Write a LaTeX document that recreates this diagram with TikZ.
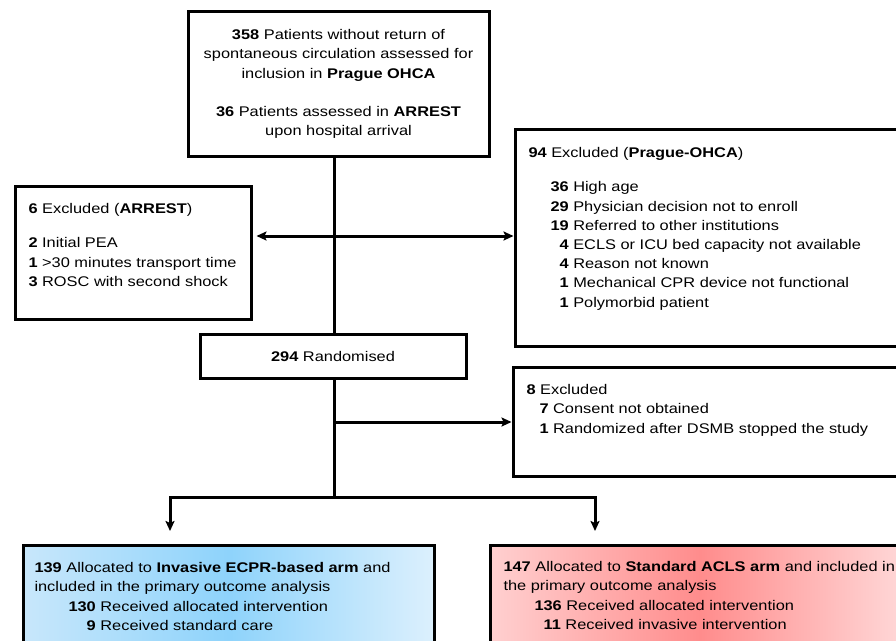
\documentclass[tikz,border=0pt]{standalone}
\usepackage{fontspec}
\setmainfont{Liberation Sans}[FakeStretch=1.17]
\usepackage{xcolor}
\usetikzlibrary{arrows.meta,positioning}
\definecolor{ecpredge}{HTML}{C8E7FB}
\definecolor{ecprmid}{HTML}{8ED3FB}
\definecolor{ecprright}{HTML}{DCF0FD}
\definecolor{aclsedge}{HTML}{FFD0D0}
\definecolor{aclsmid}{HTML}{FF8C8C}
\definecolor{aclsright}{HTML}{FFDADA}

\begin{document}
\begin{tikzpicture}[x=1pt, y=-1pt, line width=3pt, >={Stealth[length=10pt,width=9pt,inset=2pt]}]
\tikzstyle{every node} = [font=\fontsize{14pt}{19.2pt}\selectfont]
\tikzstyle{box} = [draw, rectangle, inner sep=0pt, anchor=north west]
\tikzstyle{txt} = [inner sep=0pt, anchor=north west, align=left]
\useasboundingbox (0,0) rectangle (896,640);
\clip (0,0) rectangle (896,640);
% boxes
\node[box, minimum width=301, minimum height=145, align=center] (top) at (186.5,10)
	{\textbf{358} Patients without return of\\ spontaneous circulation assessed for\\ inclusion in \textbf{Prague OHCA}\\[19pt]
	\textbf{36} Patients assessed in \textbf{ARREST}\\ upon hospital arrival};
\node[box, minimum width=236, minimum height=133] (arrest) at (13.5,184.5) {};
\node[box, minimum width=400, minimum height=217] (prague) at (513.5,127.5) {};
\node[box, minimum width=266, minimum height=44] (rand) at (198.5,332.5) {\textbf{294} Randomised};
\node[box, minimum width=400, minimum height=109] (excl) at (511.5,365.5) {};
\node[box, minimum width=411, minimum height=120, left color=ecpredge, right color=ecprright, middle color=ecprmid] (ecpr) at (21.5,543.5) {};
\node[box, minimum width=420, minimum height=120, left color=aclsedge, right color=aclsright, middle color=aclsmid] (acls) at (488.5,543.5) {};
% texts
\node[txt] (arrest-txt) at (27,202) {\textbf{6} Excluded (\textbf{ARREST})\\[15pt]
	\textbf{2} Initial PEA\\ \textbf{1} >30 minutes transport time\\ \textbf{3} ROSC with second shock};
\node[txt] (prague-txt) at (527,146) {\textbf{94} Excluded (\textbf{Prague-OHCA})\\[15pt]
	\hspace*{22pt}\textbf{36} High age\\
	\hspace*{22pt}\textbf{29} Physician decision not to enroll\\
	\hspace*{22pt}\textbf{19} Referred to other institutions\\
	\hspace*{22pt}\hphantom{0}\textbf{4} ECLS or ICU bed capacity not available\\
	\hspace*{22pt}\hphantom{0}\textbf{4} Reason not known\\
	\hspace*{22pt}\hphantom{0}\textbf{1} Mechanical CPR device not functional\\
	\hspace*{22pt}\hphantom{0}\textbf{1} Polymorbid patient};
\node[txt] (excl-txt) at (525,383) {\textbf{8} Excluded\\
	\hspace*{13pt}\textbf{7} Consent not obtained\\
	\hspace*{13pt}\textbf{1} Randomized after DSMB stopped the study};
\node[txt] (ecpr-txt) at (33,561) {\textbf{139} Allocated to \textbf{Invasive ECPR-based arm} and\\
	included in the primary outcome analysis\\
	\hspace*{34pt}\textbf{130} Received allocated intervention\\
	\hspace*{34pt}\hphantom{00}\textbf{9} Received standard care};
\node[txt] (acls-txt) at (502,560) {\textbf{147} Allocated to \textbf{Standard ACLS arm} and included in\\
	the primary outcome analysis\\
	\hspace*{31pt}\textbf{136} Received allocated intervention\\
	\hspace*{31pt}\hphantom{0}\textbf{11} Received invasive intervention};
% connectors
\coordinate (t1) at (334,236);
\coordinate (t2) at (334,422);
\coordinate (split) at (334,497);
\coordinate (ecpr-in) at (170,531);
\coordinate (acls-in) at (595,531);
\draw (top.south -| t1) -- (rand.north -| t1);
\draw[->] (t1) -- ([xshift=4pt]arrest.east |- t1);
\draw[->] (t1) -- (prague.west |- t1);
\draw (rand.south -| t2) -- (split);
\draw[->] (t2) -- (excl.west |- t2);
\draw[->] (split) -| (ecpr-in);
\draw[->] (split) -| (acls-in);
\end{tikzpicture}
\end{document}
